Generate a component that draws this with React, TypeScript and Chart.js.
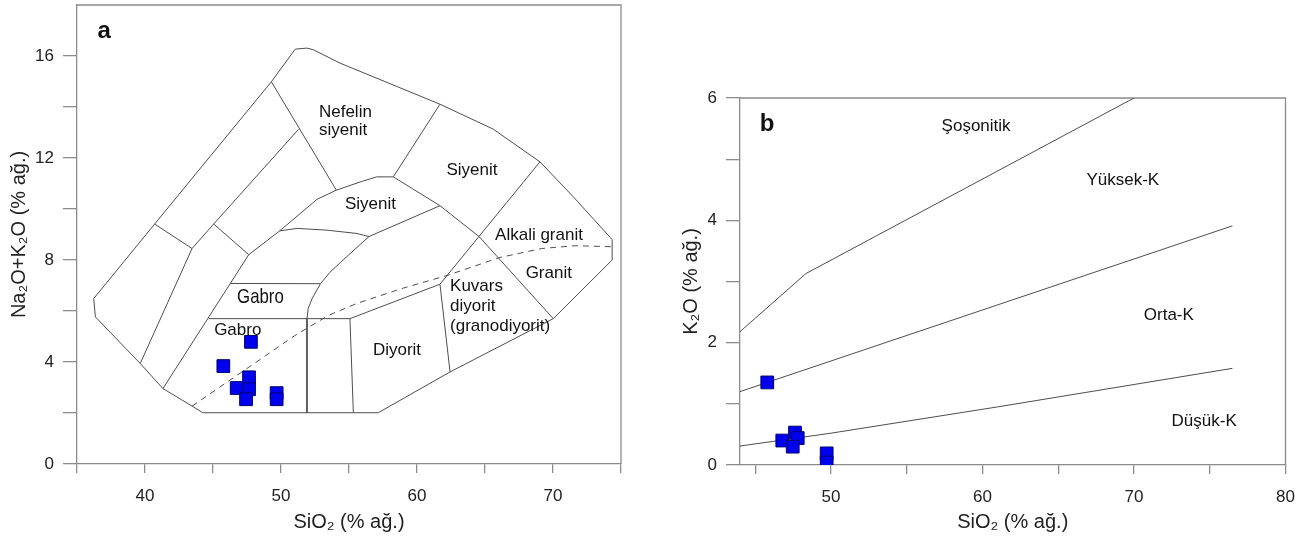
import React, { useEffect, useRef } from 'react';
import { Chart, registerables } from 'chart.js';

Chart.register(...registerables);

type Pt = [number, number];

// ---------- DATA ----------
// Panel a: TAS (Na2O+K2O vs SiO2)
const TAS_SIO2 = [47.79, 45.76, 47.65, 46.74, 47.65, 47.43, 49.68, 49.68];
const TAS_ALK = [4.79, 3.84, 3.4, 2.98, 2.93, 2.54, 2.78, 2.54];

// Panel b: K2O vs SiO2
const K_SIO2 = [45.8, 46.79, 47.63, 47.81, 47.48, 49.72, 49.72];
const K_K2O = [1.35, 0.4, 0.53, 0.44, 0.3, 0.19, 0.04];

// Tick values
const TAS_X_TICKS = [35, 40, 45, 50, 55, 60, 65, 70, 75];
const TAS_Y_TICKS = [0, 2, 4, 6, 8, 10, 12, 14, 16];
const K_X_TICKS = [45, 50, 55, 60, 65, 70, 75, 80];
const K_Y_TICKS = [0, 1, 2, 3, 4, 5, 6];

// TAS field boundaries (SiO2, Na2O+K2O)
const TAS_OUTLINE: Pt[] = [
  [36.23, 6.49], [36.35, 5.77], [39.65, 3.94], [41.32, 2.96], [43.46, 2.27], [44.26, 2.01],
  [57.15, 2.01], [62.43, 3.61], [70.02, 5.7], [74.35, 8.0], [74.35, 8.8], [71.49, 10.48],
  [69.04, 11.85], [65.61, 13.13], [61.69, 14.11], [54.34, 15.72], [52.4, 16.24], [51.91, 16.31],
  [51.05, 16.27], [49.29, 14.99], [40.71, 9.41], [36.23, 6.49],
];
const TAS_L1: Pt[] = [[40.71, 9.41], [43.46, 8.45]];
const TAS_L2: Pt[] = [[51.3, 13.13], [45.05, 9.41], [43.46, 8.45], [39.65, 3.94]];
const TAS_L3: Pt[] = [[45.05, 9.41], [47.63, 8.21]];
const TAS_L4: Pt[] = [[54.07, 10.74], [52.65, 10.38], [49.9, 9.14], [47.63, 8.21], [41.32, 2.96]];
const TAS_L5: Pt[] = [[49.29, 14.99], [54.07, 10.74]];
const TAS_L6: Pt[] = [[54.07, 10.74], [55.99, 11.09], [57.04, 11.26], [58.26, 11.26]];
const TAS_L7: Pt[] = [[58.26, 11.26], [61.69, 14.11]];
const TAS_L8: Pt[] = [[58.26, 11.26], [61.69, 10.13], [64.58, 8.91], [70.02, 5.7]];
const TAS_L9: Pt[] = [[69.04, 11.85], [61.69, 7.05]];
const TAS_L10: Pt[] = [[49.9, 9.14], [51.18, 9.24], [53.38, 9.17], [55.59, 9.04], [56.47, 8.92], [61.69, 10.13]];
const TAS_L11: Pt[] = [
  [56.47, 8.92], [54.71, 8.07], [53.6, 7.52], [52.9, 7.07], [52.3, 6.5], [52.0, 6.1], [51.91, 5.7], [51.91, 2.01],
];
const TAS_L12: Pt[] = [[46.27, 7.08], [52.9, 7.07]];
const TAS_L13: Pt[] = [[44.68, 5.7], [55.07, 5.7], [61.69, 7.05]];
const TAS_L14: Pt[] = [[55.07, 5.7], [55.32, 2.01]];
const TAS_L15: Pt[] = [[61.69, 7.05], [62.43, 3.61]];
const TAS_DASH: Pt[] = [
  [43.46, 2.27], [47.7, 3.82], [51.0, 5.03], [53.5, 5.83], [55.59, 6.3], [59.0, 6.9],
  [62.13, 7.38], [66.1, 8.1], [69.17, 8.45], [71.6, 8.56], [74.35, 8.52],
];

// K2O-SiO2 series boundaries
const K_SHO: Pt[] = [[44, 2.18], [48.35, 3.13], [70, 6.0]];
const K_HIGH: Pt[] = [[44, 1.2], [76.5, 3.91]];
const K_LOW: Pt[] = [[44, 0.31], [50, 0.52], [61, 0.95], [76.5, 1.58]];

// ---------- STYLE ----------
const FONT = "'Liberation Sans', Arial, Helvetica, sans-serif";
const AXIS = '#8c8c8c';
const LINE = '#4d4d4d';
const TEXT = '#222222';
const FILL = '#0000ee';
const EDGE = '#00006e';

type Note = {
  lines: string[]; x: number; y: number; size?: number; align?: CanvasTextAlign;
  bold?: boolean; lh?: number; hScale?: number;
};

const TAS_NOTES: Note[] = [
  { lines: ['Nefelin', 'siyenit'], x: 52.79, y: 13.8, align: 'left', lh: 18 },
  { lines: ['Siyenit'], x: 64.04, y: 11.51 },
  { lines: ['Siyenit'], x: 56.58, y: 10.19 },
  { lines: ['Alkali granit'], x: 68.97, y: 8.98 },
  { lines: ['Granit'], x: 69.69, y: 7.47 },
  { lines: ['Kuvars', 'diyorit', '(granodiyorit)'], x: 62.43, y: 6.95, align: 'left', lh: 20 },
  { lines: ['Diyorit'], x: 58.53, y: 4.46 },
  { lines: ['Gabro'], x: 48.49, y: 6.53, size: 21, hScale: 0.8 },
  { lines: ['Gabro'], x: 46.82, y: 5.25 },
  { lines: ['a'], x: 36.99, y: 16.95, size: 24, bold: true },
];

const K_NOTES: Note[] = [
  { lines: ['Şoşonitik'], x: 59.58, y: 5.54 },
  { lines: ['Yüksek-K'], x: 69.26, y: 4.66 },
  { lines: ['Orta-K'], x: 72.3, y: 2.44 },
  { lines: ['Düşük-K'], x: 74.63, y: 0.71 },
  { lines: ['b'], x: 45.78, y: 5.57, size: 24, bold: true },
];

const toXY = (a: Pt[]) => a.map(([x, y]) => ({ x, y }));

function lineDs(pts: Pt[], dashed = false) {
  return {
    data: toXY(pts),
    showLine: true,
    borderColor: LINE,
    borderWidth: 1,
    borderDash: dashed ? [6, 5] : [],
    pointRadius: 0,
    pointHoverRadius: 0,
    fill: false,
    tension: 0,
    order: 2,
  };
}

function pointDs(xs: number[], ys: number[]) {
  return {
    data: xs.map((x, i) => ({ x, y: ys[i] })),
    showLine: false,
    pointStyle: 'rect',
    pointRadius: 9,
    pointHoverRadius: 9,
    backgroundColor: FILL,
    borderColor: EDGE,
    borderWidth: 1,
    order: 0,
  };
}

function makeScale(o: {
  isX: boolean; min: number; max: number; ticks: number[]; every: number; title: string;
  size: number; tickLen: number; pad: number; titlePad: number;
}) {
  return {
    type: 'linear',
    position: o.isX ? 'bottom' : 'left',
    min: o.min,
    max: o.max,
    afterBuildTicks: (s: any) => {
      s.ticks = o.ticks.map((v) => ({ value: v }));
    },
    afterFit: (s: any) => {
      if (o.isX) s.height = o.size;
      else s.width = o.size;
      s.paddingTop = 0;
      s.paddingBottom = 0;
      s.paddingLeft = 0;
      s.paddingRight = 0;
    },
    grid: { drawOnChartArea: false, drawTicks: true, tickLength: o.tickLen, color: AXIS, lineWidth: 1.3 },
    border: { display: true, color: AXIS, width: 1.3 },
    ticks: {
      autoSkip: false,
      maxRotation: 0,
      minRotation: 0,
      padding: o.pad,
      color: TEXT,
      font: { family: FONT, size: 17 },
      callback: (v: any) => (Math.abs(Number(v) % o.every) < 1e-9 ? String(v) : ''),
    },
    title: {
      display: true,
      text: o.title,
      color: TEXT,
      font: { family: FONT, size: 20 },
      padding: o.isX ? { top: 0, bottom: o.titlePad } : { top: o.titlePad, bottom: 0 },
    },
  };
}

const framePlugin = {
  id: 'frame',
  beforeDatasetsDraw(chart: any) {
    const { ctx, chartArea } = chart;
    const { left, top, right, bottom } = chartArea;
    ctx.save();
    ctx.strokeStyle = AXIS;
    ctx.lineWidth = 1.3;
    ctx.beginPath();
    ctx.moveTo(left, top);
    ctx.lineTo(right, top);
    ctx.lineTo(right, bottom);
    ctx.stroke();
    ctx.restore();
  },
};

function notesPlugin(notes: Note[]) {
  return {
    id: 'notes',
    afterDatasetsDraw(chart: any) {
      const { ctx, scales } = chart;
      for (const n of notes) {
        const size = n.size ?? 17;
        const hs = n.hScale ?? 1;
        const px = scales.x.getPixelForValue(n.x);
        const py = scales.y.getPixelForValue(n.y);
        const lh = n.lh ?? size * 1.15;
        ctx.save();
        ctx.fillStyle = '#111';
        ctx.textBaseline = 'middle';
        ctx.font = `${n.bold ? 'bold ' : ''}${size}px ${FONT}`;
        ctx.textAlign = n.align ?? 'center';
        ctx.translate(px, py);
        ctx.scale(hs, 1);
        n.lines.forEach((t, i) => ctx.fillText(t, 0, i * lh));
        ctx.restore();
      }
    },
  };
}

function tasConfig(): any {
  return {
    type: 'scatter',
    data: {
      datasets: [
        pointDs(TAS_SIO2, TAS_ALK),
        lineDs(TAS_OUTLINE),
        lineDs(TAS_L1), lineDs(TAS_L2), lineDs(TAS_L3), lineDs(TAS_L4), lineDs(TAS_L5),
        lineDs(TAS_L6), lineDs(TAS_L7), lineDs(TAS_L8), lineDs(TAS_L9), lineDs(TAS_L10),
        lineDs(TAS_L11), lineDs(TAS_L12), lineDs(TAS_L13), lineDs(TAS_L14), lineDs(TAS_L15),
        lineDs(TAS_DASH, true),
      ],
    },
    options: {
      responsive: false,
      maintainAspectRatio: false,
      animation: false,
      events: [],
      layout: { autoPadding: false, padding: { left: 0, top: 5, right: 29, bottom: 0 } },
      plugins: { legend: { display: false }, tooltip: { enabled: false } },
      scales: {
        x: makeScale({ isX: true, min: 35, max: 75, ticks: TAS_X_TICKS, every: 10, title: 'SiO₂ (% ağ.)', size: 72, tickLen: 9, pad: 13, titlePad: 2 }),
        y: makeScale({ isX: false, min: 0, max: 18, ticks: TAS_Y_TICKS, every: 4, title: 'Na₂O+K₂O (% ağ.)', size: 77, tickLen: 14, pad: 9, titlePad: 7 }),
      },
    },
    plugins: [framePlugin, notesPlugin(TAS_NOTES)],
  };
}

function kConfig(): any {
  return {
    type: 'scatter',
    data: {
      datasets: [pointDs(K_SIO2, K_K2O), lineDs(K_SHO), lineDs(K_HIGH), lineDs(K_LOW)],
    },
    options: {
      responsive: false,
      maintainAspectRatio: false,
      animation: false,
      events: [],
      layout: { autoPadding: false, padding: { left: 0, top: 98, right: 15.5, bottom: 0 } },
      plugins: { legend: { display: false }, tooltip: { enabled: false } },
      scales: {
        x: makeScale({ isX: true, min: 44, max: 80, ticks: K_X_TICKS, every: 10, title: 'SiO₂ (% ağ.)', size: 71, tickLen: 9, pad: 13, titlePad: 2 }),
        y: makeScale({ isX: false, min: 0, max: 6, ticks: K_Y_TICKS, every: 2, title: 'K₂O (% ağ.)', size: 90, tickLen: 14, pad: 9, titlePad: 29.5 }),
      },
    },
    plugins: [framePlugin, notesPlugin(K_NOTES)],
  };
}

function ChartCanvas({ build, width, height, left }: { build: () => any; width: number; height: number; left: number }) {
  const ref = useRef<HTMLCanvasElement>(null);
  useEffect(() => {
    const chart = new Chart(ref.current as HTMLCanvasElement, build());
    return () => chart.destroy();
  }, []);
  return (
    <canvas
      ref={ref}
      width={width}
      height={height}
      style={{ position: 'absolute', left, top: 0, width, height, display: 'block' }}
    />
  );
}

export default function App() {
  return (
    <div style={{ position: 'absolute', left: 0, top: 0, width: 1301, height: 536, background: '#fff', overflow: 'hidden' }}>
      <ChartCanvas build={tasConfig} width={650} height={536} left={0} />
      <ChartCanvas build={kConfig} width={651} height={536} left={650} />
    </div>
  );
}
